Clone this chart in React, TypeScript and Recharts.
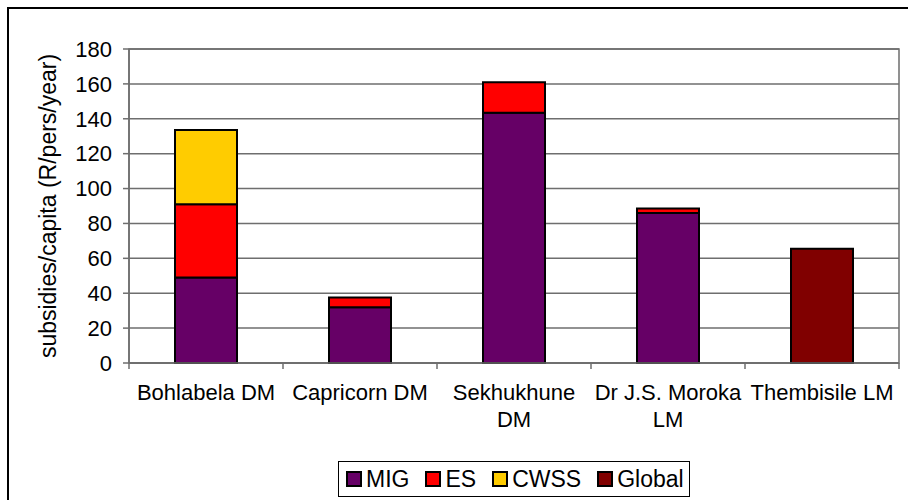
import React from "react";
import {
  Bar,
  BarChart,
  CartesianGrid,
  Legend,
  ReferenceArea,
  XAxis,
  YAxis,
} from "recharts";

const categories = [
  "Bohlabela DM",
  "Capricorn DM",
  "Sekhukhune DM",
  "Dr J.S. Moroka LM",
  "Thembisile LM",
];
// how each category label wraps under the axis
const tickLines = [
  ["Bohlabela DM"],
  ["Capricorn DM"],
  ["Sekhukhune", "DM"],
  ["Dr J.S. Moroka", "LM"],
  ["Thembisile LM"],
];

const migValues = [49, 32, 143.5, 86, null];
const esValues = [42, 5.5, 17.5, 2.5, null];
const cwssValues = [42.5, null, null, null, null];
const globalValues = [null, null, null, null, 65.5];

const yTicks = [0, 20, 40, 60, 80, 100, 120, 140, 160, 180];

const series = [
  { key: "MIG", color: "#660066", values: migValues },
  { key: "ES", color: "#ff0000", values: esValues },
  { key: "CWSS", color: "#ffcc00", values: cwssValues },
  { key: "Global", color: "#800000", values: globalValues },
];

const data = categories.map((name, i) => {
  const row: Record<string, string | number | null> = { name };
  series.forEach((s) => {
    row[s.key] = s.values[i];
  });
  return row;
});

const FONT = "'Liberation Sans', Arial, sans-serif";
const FS = 22;
const GRID = "#6e6e6e";
const PLOT_LEFT = 129;
const PLOT_RIGHT = 899;
const BAND = (PLOT_RIGHT - PLOT_LEFT) / categories.length;

const XTick = (props: any) => {
  const { x, y, index } = props;
  const lines = tickLines[index] || [];
  const axisY = y - 6;
  const left = x - BAND / 2;
  const last = index === categories.length - 1;
  return (
    <g>
      <line x1={left} x2={left} y1={axisY} y2={axisY + 6} stroke={GRID} strokeWidth={1.5} />
      {last && (
        <line x1={x + BAND / 2} x2={x + BAND / 2} y1={axisY} y2={axisY + 6} stroke={GRID} strokeWidth={1.5} />
      )}
      <text x={x} y={y} textAnchor="middle" fontSize={FS} fontFamily={FONT} fill="#000">
        {lines.map((l: string, i: number) => (
          <tspan key={i} x={x} dy={i === 0 ? 31 : 27}>
            {l}
          </tspan>
        ))}
      </text>
    </g>
  );
};

const YLabel = (props: any) => {
  const vb = props.viewBox || { x: 0, y: 0, height: 0 };
  const cx = vb.x + 39;
  const cy = vb.y + vb.height / 2;
  return (
    <text
      x={cx}
      y={cy}
      transform={`rotate(-90, ${cx}, ${cy})`}
      textAnchor="middle"
      dominantBaseline="central"
      fontSize={23}
      fontFamily={FONT}
      fill="#000"
    >
      subsidies/capita (R/pers/year)
    </text>
  );
};

const LegendBox = () => (
  <div
    style={{
      boxSizing: "border-box",
      width: 352,
      height: 36,
      border: "1px solid #000",
      display: "flex",
      alignItems: "center",
      paddingLeft: 7,
      fontFamily: FONT,
      fontSize: 23,
      color: "#000",
      background: "#fff",
    }}
  >
    {series.map((s) => (
      <div key={s.key} style={{ display: "flex", alignItems: "center", marginRight: 16 }}>
        <span
          style={{
            display: "inline-block",
            width: 12,
            height: 12,
            border: "2px solid #000",
            background: s.color,
            marginRight: 4,
          }}
        />
        <span style={{ lineHeight: "24px" }}>{s.key}</span>
      </div>
    ))}
  </div>
);

export default function App() {
  return (
    <div style={{ position: "fixed", left: 0, top: 0, width: 908, height: 500, background: "#fff" }}>
      <div
        style={{
          position: "absolute",
          left: 7,
          top: 7,
          width: 910,
          height: 500,
          borderLeft: "2px solid #000",
          borderTop: "2px solid #000",
        }}
      />
      <div style={{ position: "absolute", left: 0, top: 0 }}>
        <BarChart
          width={908}
          height={500}
          data={data}
          margin={{ top: 49, right: 908 - PLOT_RIGHT, bottom: 37, left: 9 }}
          barSize={62}
        >
          <CartesianGrid vertical={false} stroke={GRID} strokeWidth={1.5} />
          <ReferenceArea y1={0} y2={180} fill="none" stroke={GRID} strokeWidth={1.5} ifOverflow="visible" />
          <XAxis
            dataKey="name"
            height={100}
            interval={0}
            stroke={GRID}
            strokeWidth={1.5}
            tickLine={false}
            tickSize={6}
            tickMargin={0}
            tick={<XTick />}
          />
          <YAxis
            width={PLOT_LEFT - 9}
            domain={[0, 180]}
            ticks={yTicks}
            interval={0}
            stroke={GRID}
            strokeWidth={1.5}
            tickSize={6}
            tickMargin={11}
            tick={{ fill: "#000", fontSize: FS, fontFamily: FONT }}
            label={<YLabel />}
          />
          <Legend
            layout="horizontal"
            verticalAlign="middle"
            align="center"
            content={<LegendBox />}
            wrapperStyle={{ left: 338, top: 461, width: 352, height: 36 }}
          />
          {series.map((s) => (
            <Bar
              key={s.key}
              dataKey={s.key}
              stackId="a"
              fill={s.color}
              stroke="#000"
              strokeWidth={2}
              isAnimationActive={false}
            />
          ))}
        </BarChart>
      </div>
    </div>
  );
}
